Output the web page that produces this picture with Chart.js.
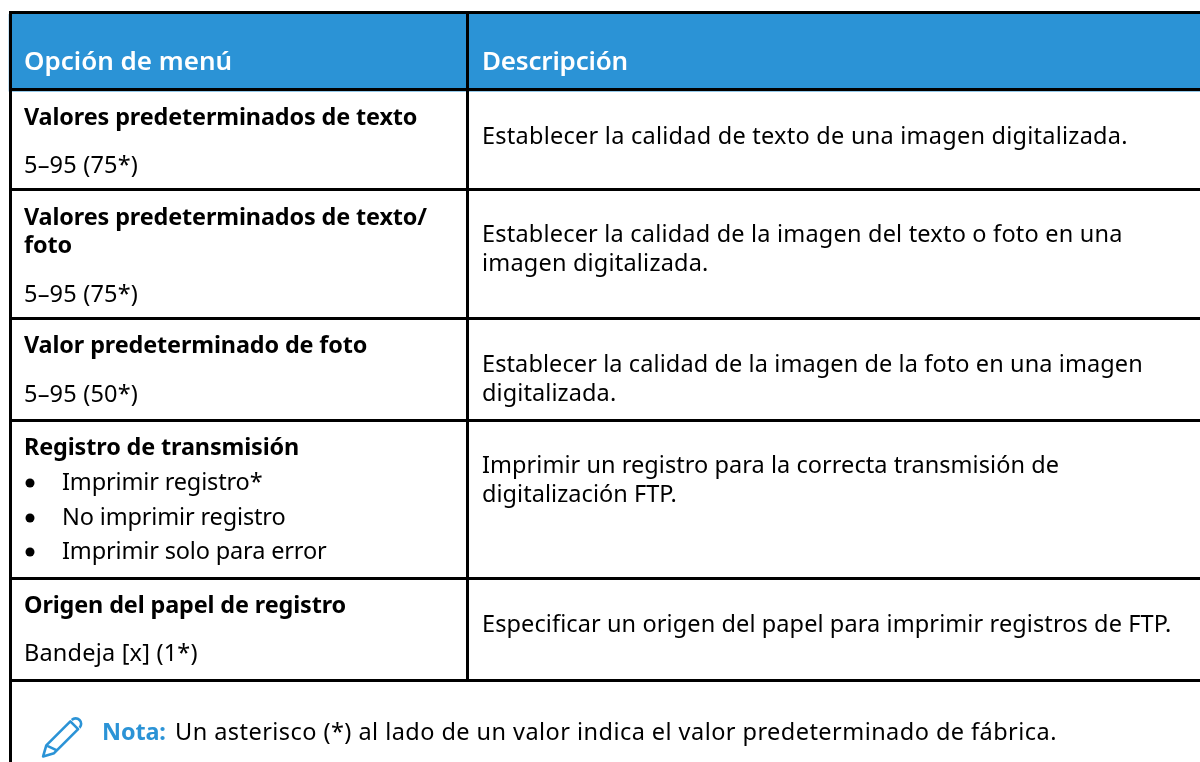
<!DOCTYPE html>
<html>
<head>
<meta charset="utf-8">
<style>
    html, body { margin: 0; padding: 0; background: #fff; }
    canvas { display: block; }
</style>
<script src="https://cdn.jsdelivr.net/npm/chart.js@4/dist/chart.umd.min.js"></script>
</head>
<body>
<canvas id="menuTable" width="1200" height="762"></canvas>
<script>
// Column headings
const headings = ['Opción de menú', 'Descripción'];

// Left column: bold title (wrapped lines), then values or bullets
const optionTitles = [
    ['Valores predeterminados de texto'],
    ['Valores predeterminados de texto/', 'foto'],
    ['Valor predeterminado de foto'],
    ['Registro de transmisión'],
    ['Origen del papel de registro']
];
const optionValues = [
    ['5–95 (75*)'],
    ['5–95 (75*)'],
    ['5–95 (50*)'],
    [],
    ['Bandeja [x] (1*)']
];
const optionBullets = [
    [],
    [],
    [],
    ['Imprimir registro*', 'No imprimir registro', 'Imprimir solo para error'],
    []
];

// Right column, wrapped lines
const descriptions = [
    ['Establecer la calidad de texto de una imagen digitalizada.'],
    ['Establecer la calidad de la imagen del texto o foto en una', 'imagen digitalizada.'],
    ['Establecer la calidad de la imagen de la foto en una imagen', 'digitalizada.'],
    ['Imprimir un registro para la correcta transmisión de', 'digitalización FTP.'],
    ['Especificar un origen del papel para imprimir registros de FTP.']
];

const noteLabel = 'Nota:';
const noteText = 'Un asterisco (*) al lado de un valor indica el valor predeterminado de fábrica.';

// Rules
const rowRules = [12.5, 89.5, 189.5, 318.5, 420.5, 578.5, 680.5];
const columnRules = [10.5, 467.5];

const BLUE = '#2b93d6';
const FONT = '"Noto Sans"';

// Small per-row tuning, the original face is not installed
const titleDrop = [34, 34, 33, 33, 33];
const valueGap = [48, 49, 49, 0, 48];
const descDrop = [53, 51, 52, 51, 52];
const descSpacing = [0.25, 0.2, 0.1, 0.05, 0.1];

function hLine(y, x0, x1) {
    return { type: 'line', data: [{ x: x0, y }, { x: x1, y }], borderColor: '#000', borderWidth: 3, pointRadius: 0 };
}
function vLine(x, y0, y1) {
    return { type: 'line', data: [{ x, y: y0 }, { x, y: y1 }], borderColor: '#000', borderWidth: 3, pointRadius: 0 };
}

// Chart.js paints the first dataset last, so the header fill goes at the end
const datasets = [
    ...rowRules.map(y => hLine(y, 9, 1200)),
    vLine(columnRules[0], 11, 762),
    vLine(columnRules[1], 11, rowRules[rowRules.length - 1] + 1.5),
    {
        type: 'line',
        data: [{ x: 8.5, y: 14 }, { x: 1200, y: 14 }],
        borderWidth: 0,
        pointRadius: 0,
        backgroundColor: BLUE,
        fill: { value: 91.5 }
    }
];

// Draws the cell text on top of the rules
const tableText = {
    id: 'tableText',
    afterDatasetsDraw(chart) {
        const { ctx, scales: { x, y } } = chart;
        const leftX = x.getPixelForValue(24);
        const bulletX = x.getPixelForValue(30);
        const bulletTextX = x.getPixelForValue(62);
        const rightX = x.getPixelForValue(482);

        const put = (str, px, py, weight, size, color, spacing) => {
            ctx.font = `${weight} ${size}px ${FONT}`;
            ctx.letterSpacing = (spacing || 0) + 'px';
            ctx.fillStyle = color || '#000';
            ctx.fillText(str, px, y.getPixelForValue(py));
        };
        const bold = (str, px, py) => put(str, px, py, 700, 23.4, '#000', -0.12);
        const plain = (str, px, py, spacing) => put(str, px, py, 400, 23.5, '#000', spacing);

        ctx.save();
        ctx.textBaseline = 'alphabetic';
        ctx.textAlign = 'left';

        put(headings[0], leftX, 70, 600, 26, '#fff');
        put(headings[1], rightX, 70, 600, 26, '#fff', -0.2);

        optionTitles.forEach((title, r) => {
            const top = rowRules[r + 1] + 1.5;
            let base = top + titleDrop[r];
            title.forEach((line, i) => {
                if (i) base += 28;
                bold(line, leftX, base);
            });
            optionValues[r].forEach(line => {
                plain(line, leftX, base + valueGap[r], 0.2);
            });
            optionBullets[r].forEach((line, i) => {
                const by = Math.round(base + 35 + i * 34.5);
                ctx.beginPath();
                ctx.arc(bulletX, y.getPixelForValue(by - 7), 4.5, 0, Math.PI * 2);
                ctx.fillStyle = '#000';
                ctx.fill();
                plain(line, bulletTextX, by, -0.15);
            });
        });

        descriptions.forEach((lines, r) => {
            const top = rowRules[r + 1] + 1.5;
            lines.forEach((line, i) => {
                plain(line, rightX, top + descDrop[r] + i * 29, descSpacing[r]);
            });
        });

        put(noteLabel, 102, 740, 700, 23.4, BLUE, -0.12);
        put(noteText, 175, 740, 400, 23.5, '#000', 0.45);

        // pencil icon
        ctx.save();
        ctx.translate(x.getPixelForValue(61.5), y.getPixelForValue(738));
        ctx.rotate(-Math.PI / 4);
        ctx.strokeStyle = BLUE;
        ctx.lineWidth = 2.6;
        ctx.lineJoin = 'round';
        ctx.beginPath();
        ctx.moveTo(-26, 0);
        ctx.lineTo(-16, -5.5);
        ctx.lineTo(18, -5.5);
        ctx.lineTo(18, 5.5);
        ctx.lineTo(-16, 5.5);
        ctx.closePath();
        ctx.moveTo(-16, -5.5);
        ctx.lineTo(-12, 5.5);
        ctx.stroke();
        ctx.beginPath();
        ctx.arc(20, 0, 5.5, -Math.PI / 2, Math.PI / 2);
        ctx.stroke();
        ctx.restore();

        ctx.restore();
    }
};

new Chart(document.getElementById('menuTable').getContext('2d'), {
    type: 'line',
    data: { datasets },
    options: {
        responsive: false,
        animation: false,
        parsing: false,
        layout: { padding: 0 },
        plugins: { legend: { display: false }, tooltip: { enabled: false } },
        scales: {
            x: { type: 'linear', min: 0, max: 1200, display: false },
            y: { type: 'linear', min: 0, max: 762, reverse: true, display: false }
        }
    },
    plugins: [tableText]
});
</script>
</body>
</html>
